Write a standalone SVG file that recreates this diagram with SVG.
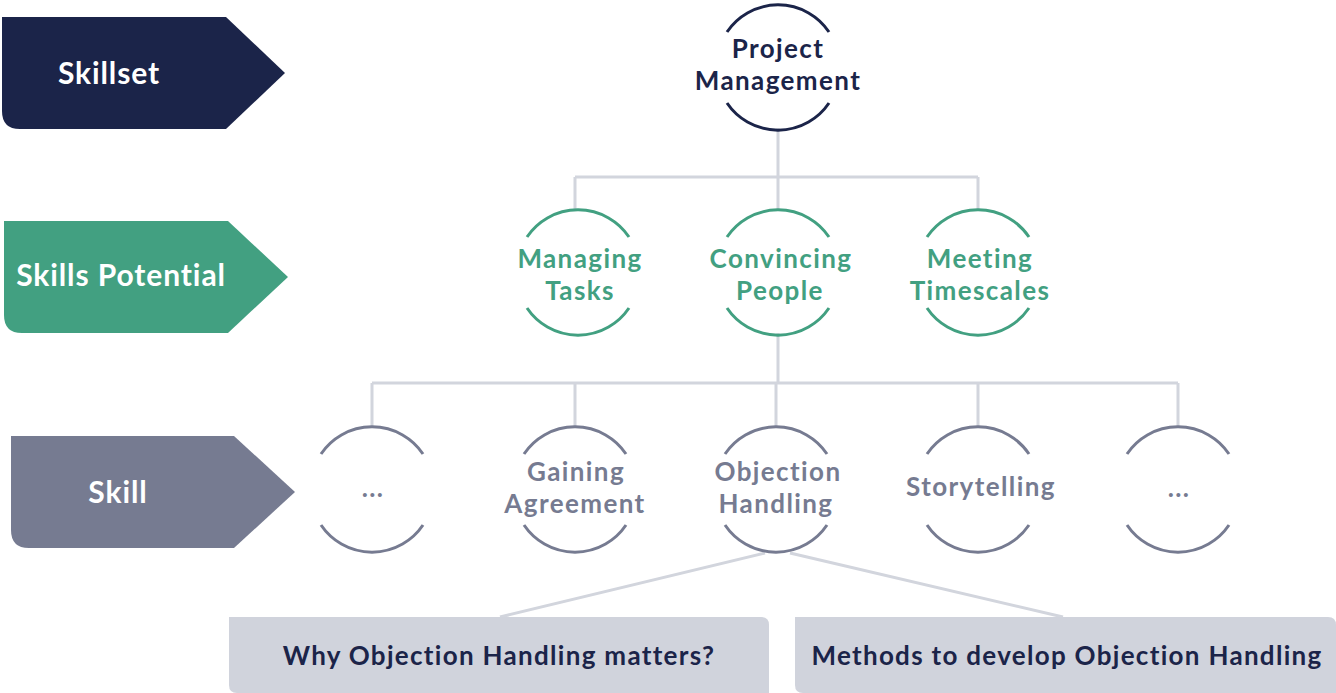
<svg xmlns="http://www.w3.org/2000/svg" width="1336" height="693" viewBox="0 0 1336 693">
<style>
text{font-family:Lato,"Noto Sans",sans-serif;font-weight:700;text-anchor:middle}
.lab{fill:#ffffff;font-size:30px;letter-spacing:0.9px}
.t1{fill:#1b2449;font-size:26px;letter-spacing:1.4px}
.t2{fill:#42a081;font-size:26px;letter-spacing:1.4px}
.t3{fill:#767b91;font-size:26px;letter-spacing:1.4px}
.bt{fill:#1b2449;font-size:26px;letter-spacing:1.3px}
.a1{fill:none;stroke:#1b2449;stroke-width:3}
.a2{fill:none;stroke:#42a081;stroke-width:3}
.a3{fill:none;stroke:#767b91;stroke-width:3}
.con{fill:none;stroke:#d2d5dd;stroke-width:3}
</style>
<defs>
<path id="arcs" d="M-51,-34 A61.5,61.5 0 0 1 51,-34 M-51,37 A61.5,61.5 0 0 0 51,37"/>
</defs>
<g id="connectors">
<path class="con" d="M778,128 V177 M575,177 H978 M575,177 V210 M778,177 V210 M978,177 V210"/>
<path class="con" d="M778,333 V383 M372,383 H1178 M372,383 V426 M575,383 V426 M776,383 V426 M978,383 V426 M1178,383 V426"/>
<path class="con" d="M765,553 L500,617 M790,553 L1063,617"/>
</g>
<g id="label-skillset">
<path d="M2,17 H226 L285,73 L226,129 H20 Q2,129 2,111 Z" fill="#1b2449"/>
<text class="lab" x="109" y="84">Skillset</text>
</g>
<g id="label-skills-potential">
<path d="M4,221 H228 L288,277 L228,333 H22 Q4,333 4,315 Z" fill="#42a081"/>
<text class="lab" x="121" y="286">Skills Potential</text>
</g>
<g id="label-skill">
<path d="M11,436 H234 L295,492 L234,548 H29 Q11,548 11,530 Z" fill="#767b91"/>
<text class="lab" x="118" y="503">Skill</text>
</g>
<g id="node-project-management">
<use href="#arcs" x="778" y="66" class="a1"/>
<text class="t1" x="778" y="58">Project</text>
<text class="t1" x="778" y="90">Management</text>
</g>
<g id="node-managing-tasks">
<use href="#arcs" x="578" y="271" class="a2"/>
<text class="t2" x="580" y="268">Managing</text>
<text class="t2" x="580" y="300">Tasks</text>
</g>
<g id="node-convincing-people">
<use href="#arcs" x="778" y="271" class="a2"/>
<text class="t2" x="781" y="268">Convincing</text>
<text class="t2" x="780" y="300">People</text>
</g>
<g id="node-meeting-timescales">
<use href="#arcs" x="978" y="271" class="a2"/>
<text class="t2" x="980" y="268">Meeting</text>
<text class="t2" x="980" y="300">Timescales</text>
</g>
<g id="node-skill-1">
<use href="#arcs" x="372" y="488" class="a3"/>
<text class="t3" x="373" y="497">...</text>
</g>
<g id="node-gaining-agreement">
<use href="#arcs" x="575" y="488" class="a3"/>
<text class="t3" x="576" y="481">Gaining</text>
<text class="t3" x="575" y="513">Agreement</text>
</g>
<g id="node-objection-handling">
<use href="#arcs" x="776" y="488" class="a3"/>
<text class="t3" x="778" y="481">Objection</text>
<text class="t3" x="776" y="513">Handling</text>
</g>
<g id="node-storytelling">
<use href="#arcs" x="978" y="488" class="a3"/>
<text class="t3" x="981" y="496">Storytelling</text>
</g>
<g id="node-skill-5">
<use href="#arcs" x="1178" y="488" class="a3"/>
<text class="t3" x="1179" y="497">...</text>
</g>
<g id="box-why">
<path d="M229,617 H761 Q769,617 769,625 V693 H237 Q229,693 229,685 Z" fill="#d0d3dc"/>
<text class="bt" x="499" y="665">Why Objection Handling matters?</text>
</g>
<g id="box-methods">
<path d="M795,617 H1328 Q1336,617 1336,625 V693 H803 Q795,693 795,685 Z" fill="#d0d3dc"/>
<text class="bt" x="1067" y="665">Methods to develop Objection Handling</text>
</g>
</svg>
